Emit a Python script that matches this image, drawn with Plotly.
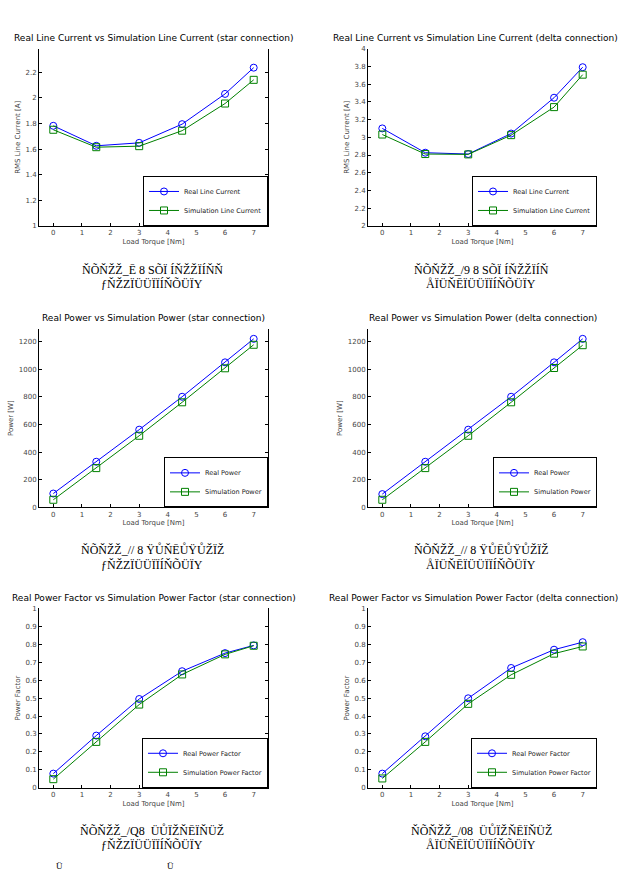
import plotly.graph_objects as go

W, H = 622, 878

# ---------------- data ----------------
torque = [0, 1.5, 3, 4.5, 6, 7]

star_current_real = [1.782, 1.626, 1.649, 1.795, 2.031, 2.236]
star_current_sim = [1.751, 1.615, 1.623, 1.744, 1.956, 2.141]

delta_current_real = [3.10, 2.826, 2.811, 3.042, 3.446, 3.79]
delta_current_sim = [3.031, 2.811, 2.807, 3.024, 3.34, 3.706]

star_power_real = [100, 330, 562, 800, 1049, 1219]
star_power_sim = [55, 284, 518, 760, 1006, 1176]

delta_power_real = [96, 330, 562, 800, 1049, 1219]
delta_power_sim = [55, 284, 518, 760, 1008, 1173]

star_pf_real = [0.079, 0.291, 0.495, 0.65, 0.751, 0.794]
star_pf_sim = [0.048, 0.256, 0.464, 0.632, 0.744, 0.792]

delta_pf_real = [0.079, 0.287, 0.499, 0.668, 0.77, 0.812]
delta_pf_sim = [0.052, 0.256, 0.468, 0.63, 0.748, 0.788]

titles = [
    "Real Line Current vs Simulation Line Current (star connection)",
    "Real Line Current vs Simulation Line Current (delta connection)",
    "Real Power vs Simulation Power (star connection)",
    "Real Power vs Simulation Power (delta connection)",
    "Real Power Factor vs Simulation Power Factor (star connection)",
    "Real Power Factor vs Simulation Power Factor (delta connection)",
]
ytitles = ["RMS Line Current [A]", "RMS Line Current [A]", "Power [W]", "Power [W]",
           "Power Factor", "Power Factor"]
xtitle = "Load Torque [Nm]"
legend_names = [
    ("Real Line Current", "Simulation Line Current"),
    ("Real Line Current", "Simulation Line Current"),
    ("Real Power", "Simulation Power"),
    ("Real Power", "Simulation Power"),
    ("Real Power Factor", "Simulation Power Factor"),
    ("Real Power Factor", "Simulation Power Factor"),
]
captions = [
    ("ŇÕŇŽŽ_Ē 8 SÕÏ ÍŇŽŽÏÍŇŇ", "ƒŇŽZÏÜÜÏÏÍŇÕÜÏY"),
    ("ŇÕŇŽŽ_/9 8 SÕÏ ÍŇŽŽÏÍŇ", "ÅÏÜŇĒÏÜÜÏÏÍŇÕÜÏY"),
    ("ŇÕŇŽŽ_// 8 ŸŮŇĒŮŸŮŽÏŽ", "ƒŇŽZÏÜÜÏÏÍŇÕÜÏY"),
    ("ŇÕŇŽŽ_// 8 ŸŮĒŮŸŮŽÏŽ", "ÅÏÜŇĒÏÜÜÏÏÍŇÕÜÏY"),
    ("ŇÕŇŽŽ_/Q8  ÜŮÏŽŇĒÏŇÜŽ", "ƒŇŽZÏÜÜÏÏÍŇÕÜÏY"),
    ("ŇÕŇŽŽ_/08  ÜŮÏŽŇĒÏŇÜŽ", "ÅÏÜŇĒÏÜÜÏÏÍŇÕÜÏY"),
]
series = [
    (star_current_real, star_current_sim),
    (delta_current_real, delta_current_sim),
    (star_power_real, star_power_sim),
    (delta_power_real, delta_power_sim),
    (star_pf_real, star_pf_sim),
    (delta_pf_real, delta_pf_sim),
]
yranges = [(1, 2.385), (2, 4), (0, 1290), (0, 1290), (0, 1), (0, 1)]
ydticks = [0.2, 0.2, 200, 200, 0.1, 0.1]
xrange_ = (-0.5, 7.5)

# ---------------- layout geometry (pixels) ----------------
cols = [(39, 268), (368, 597)]
rows = [(45, 224), (328, 508), (610, 791)]
cap_y = [(268, 283), (551, 566), (834, 849)]
cap_x = [152, 481]


def px(x):
    return x / W


def py(y):
    return 1 - y / H


BLUE = "#0000ff"
GREEN = "#008000"
fig = go.Figure()
layout = dict(
    width=W, height=H, margin=dict(l=0, r=0, t=0, b=0),
    paper_bgcolor="white", plot_bgcolor="white",
    font=dict(family="DejaVu Sans", size=7, color="#333"),
    showlegend=True,
)
annotations = []

for i in range(6):
    n = i + 1
    r, c = divmod(i, 2)
    (xl, xr), (yt, yb) = cols[c], rows[r]
    xs = "" if n == 1 else str(n)
    xa, ya = "x" + xs, "y" + xs
    leg = "legend" + xs
    real, sim = series[i]
    fig.add_trace(go.Scatter(
        x=torque, y=real, mode="lines+markers", name=legend_names[i][0],
        line=dict(color=BLUE, width=1),
        marker=dict(symbol="circle-open", size=7, color=BLUE, line=dict(width=1)),
        xaxis=xa, yaxis=ya, legend=leg))
    fig.add_trace(go.Scatter(
        x=torque, y=sim, mode="lines+markers", name=legend_names[i][1],
        line=dict(color=GREEN, width=1),
        marker=dict(symbol="square-open", size=7, color=GREEN, line=dict(width=1)),
        xaxis=xa, yaxis=ya, legend=leg))

    layout["xaxis" + xs] = dict(
        domain=[px(xl), px(xr)], anchor=ya, range=list(xrange_),
        tickmode="linear", tick0=0, dtick=1,
        showline=True, linecolor="black", linewidth=1,
        ticks="inside", ticklen=3, tickcolor="black",
        showgrid=False, zeroline=False,
        tickfont=dict(size=7, color="#444"),
        title=dict(text=xtitle, font=dict(size=7, color="#444"), standoff=2),
    )
    layout["yaxis" + xs] = dict(
        domain=[py(yb), py(yt)], anchor=xa, range=list(yranges[i]),
        tickmode="linear", tick0=yranges[i][0], dtick=ydticks[i],
        showline=True, linecolor="black", linewidth=1,
        mirror="ticks" if c == 0 else False,
        ticks="inside", ticklen=3, tickcolor="black",
        showgrid=False, zeroline=False,
        tickfont=dict(size=7, color="#444"),
        title=dict(text=ytitles[i], font=dict(size=7, color="#444"), standoff=4),
    )
    # top tick marks without a line
    layout["xaxis" + str(n + 6)] = dict(
        overlaying=xa, anchor=ya, side="top", range=list(xrange_),
        tickmode="linear", tick0=0, dtick=1, ticks="inside", ticklen=3,
        tickcolor="black", showticklabels=False, showline=False,
        showgrid=False, zeroline=False)
    if c == 1:
        layout["yaxis" + str(n + 6)] = dict(
            overlaying=ya, anchor=xa, side="right", range=list(yranges[i]),
            tickmode="linear", tick0=yranges[i][0], dtick=ydticks[i],
            ticks="inside", ticklen=3, tickcolor="black",
            showticklabels=False, showline=False, showgrid=False, zeroline=False)

    layout[leg] = dict(
        x=px(xr), y=py(yb), xanchor="right", yanchor="bottom",
        bgcolor="white", bordercolor="black", borderwidth=1,
        font=dict(size=6.5, color="#222", family="DejaVu Sans"),
        tracegroupgap=0, itemwidth=30)

    if c == 1 and len(titles[i]) > 55:
        t_x, t_anchor = px(620), "right"
    else:
        t_x, t_anchor = px((xl + xr) / 2), "center"
    annotations.append(dict(
        text=titles[i], x=t_x, y=py(yt - 11), xref="paper", yref="paper",
        xanchor=t_anchor, yanchor="middle", showarrow=False,
        font=dict(size=9, color="black", family="DejaVu Sans")))
    for k, line in enumerate(captions[i]):
        annotations.append(dict(
            text=line, x=px(cap_x[c]), y=py(cap_y[r][k]), xref="paper", yref="paper",
            xanchor="center", yanchor="middle", showarrow=False,
            font=dict(size=12, color="black", family="Liberation Serif")))

for xx in (60, 170):
    annotations.append(dict(
        text="Ü", x=px(xx), y=py(877), xref="paper", yref="paper",
        xanchor="center", yanchor="bottom", showarrow=False,
        font=dict(size=9, color="black", family="Liberation Serif")))

layout["annotations"] = annotations
fig.update_layout(**layout)
fig.write_html("out.html")
